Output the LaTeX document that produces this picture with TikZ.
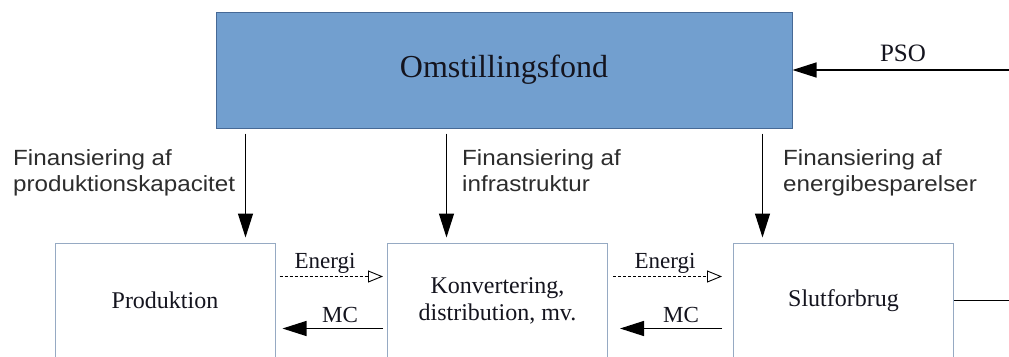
\documentclass[tikz,border=0pt]{standalone}
\usepackage{fontspec}
\setmainfont{Liberation Serif}
\newfontfamily\labsans[FakeStretch=1.1]{Liberation Sans}
\usetikzlibrary{arrows.meta,calc}
\definecolor{fondblue}{RGB}{114,159,207}
\definecolor{fondborder}{RGB}{70,105,150}
\definecolor{boxborder}{RGB}{150,170,195}
\definecolor{labgray}{RGB}{45,45,45}
\definecolor{txt}{RGB}{20,20,30}
\tikzset{
  fundbox/.style={draw=fondborder, line width=1pt, fill=fondblue, minimum width=576, minimum height=116, inner sep=0pt, text=txt, font=\fontsize{32}{38}\selectfont},
  flowbox/.style={draw=boxborder, line width=1pt, fill=white, minimum width=220, minimum height=115, inner sep=0pt, align=center, text=txt, font=\fontsize{24}{27}\selectfont},
  finlab/.style={anchor=north west, inner sep=0pt, align=left, text=labgray, font=\labsans\fontsize{22}{26}\selectfont},
  flowlab/.style={anchor=base, inner sep=0pt, text=txt, font=\fontsize{23}{27}\selectfont},
  solidarrow/.style={line width=1.3pt, -{Triangle[length=24pt,width=15pt]}},
  energyarrow/.style={line width=0.8pt, dash pattern=on 3pt off 2pt, -{Triangle[open,length=15pt,width=12pt,line width=0.9pt]}},
}
\begin{document}
\begin{tikzpicture}[x=1pt,y=-1pt]
\useasboundingbox (0,0) rectangle (1009,356);
\fill[white] (0,0) rectangle (1009,356);

\node[fundbox] (fond) at (504,70) {Omstillingsfond};

\node[flowbox] (prod) at (165,300.5) {Produktion};
\node[flowbox] (konv) at (497.5,300.5) {Konvertering,\\distribution, mv.};
\node[flowbox] (slut) at (843.5,300.5) {Slutforbrug};

% PSO input
\coordinate (psoend) at (1009,70);
\draw[solidarrow] (psoend) -- (fond.east);
\node[flowlab, font=\fontsize{25}{29}\selectfont] (pso) at (903,61) {PSO};

% financing arrows
\coordinate (s1) at ($(fond.south west)+(30,5)$);
\coordinate (s2) at ($(fond.south west)+(231,5)$);
\coordinate (s3) at ($(fond.south west)+(547,5)$);
\draw[solidarrow, shorten >=5pt] (s1) -- (s1 |- prod.north);
\draw[solidarrow, shorten >=5pt] (s2) -- (s2 |- konv.north);
\draw[solidarrow, shorten >=5pt] (s3) -- (s3 |- slut.north);

\node[finlab] (f1) at (13,149) {Finansiering af\\produktionskapacitet};
\node[finlab] (f2) at (462,149) {Finansiering af\\infrastruktur};
\node[finlab] (f3) at (783,149) {Finansiering af\\energibesparelser};

% energy / MC flows
\draw[energyarrow] ($(prod.north east)+(4,34)$) -- ($(konv.north west)+(-4,34)$);
\draw[solidarrow] ($(konv.north west)+(-4,86)$) -- ($(prod.north east)+(7,86)$);
\draw[energyarrow] ($(konv.north east)+(5,34)$) -- ($(slut.north west)+(-11,34)$);
\draw[solidarrow] ($(slut.north west)+(-11,86)$) -- ($(konv.north east)+(12,86)$);

\node[flowlab] (e1) at (325,268) {Energi};
\node[flowlab] (e2) at (665,268) {Energi};
\node[flowlab] (m1) at (340,322) {MC};
\node[flowlab] (m2) at (681,322) {MC};

% outgoing line
\draw[line width=1.3pt] (slut.east) -- (slut.east -| psoend);
\end{tikzpicture}
\end{document}
